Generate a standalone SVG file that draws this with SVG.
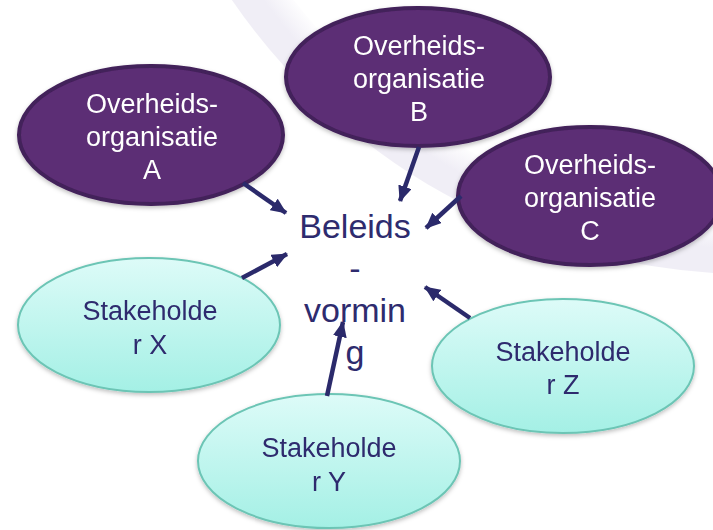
<svg xmlns="http://www.w3.org/2000/svg" width="713" height="530" viewBox="0 0 713 530">
  <style>
    .org { fill: #5C2E74; stroke: #43205A; stroke-width: 4; }
    .stk { fill: url(#stkGrad); stroke: #6CC5B5; stroke-width: 2; }
    .wt { font-family: "Liberation Sans", Arial, sans-serif; font-size: 27px; fill: #FFFFFF; text-anchor: middle; }
    .dt { font-family: "Liberation Sans", Arial, sans-serif; font-size: 27px; fill: #2E2B6E; text-anchor: middle; }
    .ct { font-family: "Liberation Sans", Arial, sans-serif; font-size: 34px; fill: #2E2B6E; text-anchor: middle; }
    .conn { stroke: #2B2A6B; stroke-width: 4.5; fill: none; marker-end: url(#arrow); }
  </style>
  <defs>
    <linearGradient id="stkGrad" x1="0" y1="0" x2="0" y2="1">
      <stop offset="0" stop-color="#DDFBF8"/>
      <stop offset="1" stop-color="#A4F0E5"/>
    </linearGradient>
    <radialGradient id="bandGrad" gradientUnits="userSpaceOnUse" cx="752.6" cy="-356.9" r="632">
      <stop offset="0.915" stop-color="#F0EEF6" stop-opacity="0"/>
      <stop offset="0.958" stop-color="#F0EEF6" stop-opacity="1"/>
      <stop offset="1" stop-color="#F0EEF6" stop-opacity="1"/>
    </radialGradient>
    <filter id="shadow" x="-10%" y="-10%" width="120%" height="130%">
      <feDropShadow dx="0" dy="2" stdDeviation="2" flood-color="#000000" flood-opacity="0.25"/>
    </filter>
    <marker id="arrow" viewBox="0 0 16 14" refX="15" refY="7" markerWidth="16" markerHeight="14" markerUnits="userSpaceOnUse" orient="auto">
      <path d="M0,0 L16,7 L0,14 z" fill="#2B2A6B"/>
    </marker>
  </defs>

  <rect width="713" height="530" fill="#FFFFFF"/>
  <path d="M242,-30 A606,606 0 0 0 740,249" fill="none" stroke="url(#bandGrad)" stroke-width="50"/>

  <g id="org-a" filter="url(#shadow)">
    <ellipse class="org" cx="151" cy="135" rx="132" ry="69"/>
    <text class="wt" x="152" y="113">Overheids-</text>
    <text class="wt" x="152" y="146">organisatie</text>
    <text class="wt" x="152" y="179">A</text>
  </g>
  <g id="org-b" filter="url(#shadow)">
    <ellipse class="org" cx="418" cy="77" rx="132" ry="69"/>
    <text class="wt" x="419" y="55">Overheids-</text>
    <text class="wt" x="419" y="88">organisatie</text>
    <text class="wt" x="419" y="121">B</text>
  </g>
  <g id="org-c" filter="url(#shadow)">
    <ellipse class="org" cx="590" cy="196" rx="132" ry="69"/>
    <text class="wt" x="590" y="174">Overheids-</text>
    <text class="wt" x="590" y="207">organisatie</text>
    <text class="wt" x="590" y="240">C</text>
  </g>

  <g id="stakeholder-x" filter="url(#shadow)">
    <ellipse class="stk" cx="149" cy="325" rx="131" ry="67"/>
    <text class="dt" x="150" y="320">Stakeholde</text>
    <text class="dt" x="150" y="354">r X</text>
  </g>
  <g id="stakeholder-y" filter="url(#shadow)">
    <ellipse class="stk" cx="329" cy="461" rx="131" ry="67"/>
    <text class="dt" x="329" y="457">Stakeholde</text>
    <text class="dt" x="329" y="491">r Y</text>
  </g>
  <g id="stakeholder-z" filter="url(#shadow)">
    <ellipse class="stk" cx="563" cy="366" rx="131" ry="67"/>
    <text class="dt" x="563" y="361">Stakeholde</text>
    <text class="dt" x="563" y="394">r Z</text>
  </g>

  <g id="beleidsvorming">
    <text class="ct" x="355" y="238">Beleids</text>
    <text class="ct" x="355" y="280">-</text>
    <text class="ct" x="355" y="322">vormin</text>
    <text class="ct" x="355" y="364">g</text>
  </g>

  <g id="connectors">
    <line class="conn" x1="243" y1="183" x2="286" y2="213"/>
    <line class="conn" x1="419" y1="147" x2="400" y2="201"/>
    <line class="conn" x1="461" y1="196" x2="426" y2="228"/>
    <line class="conn" x1="242" y1="278" x2="287" y2="254"/>
    <line class="conn" x1="327" y1="396" x2="343" y2="322"/>
    <line class="conn" x1="470" y1="318" x2="425" y2="287"/>
  </g>
</svg>
